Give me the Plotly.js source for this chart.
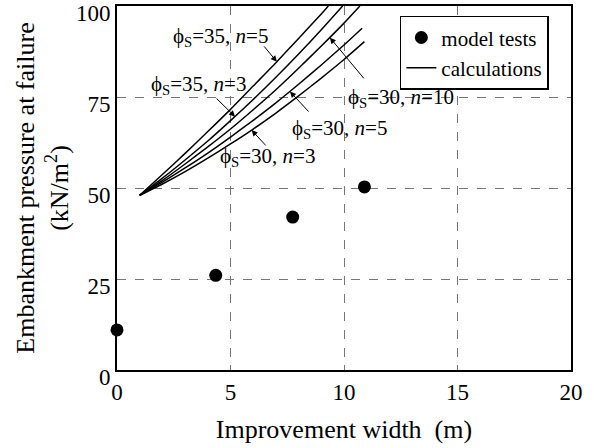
<!DOCTYPE html>
<html>
<head>
<meta charset="utf-8">
<script src="https://cdn.plot.ly/plotly-3.0.1.min.js"></script>
<style>html,body{margin:0;padding:0;background:#fff;}#chart{width:594px;height:448px;}</style>
</head>
<body>
<div id="chart"></div>
<script>
// Model test results
const testWidth = [0, 4.35, 7.74, 10.9];
const testPressure = [11, 26, 42, 50.3];

// Calculated curves (improvement width m, pressure kN/m2)
const calcX_35_5 = [1, 2, 3, 4, 5, 6, 7, 8, 9, 9.31];
const calcY_35_5 = [48, 53.7, 59.5, 65.5, 71.6, 78.0, 84.4, 91.1, 97.8, 100];
const calcX_35_3 = [1, 2, 3, 4, 5, 6, 7, 8, 9, 9.94];
const calcY_35_3 = [48, 52.7, 57.7, 62.9, 68.5, 74.3, 80.4, 86.8, 93.5, 100];
const calcX_30_10 = [1, 2, 3, 4, 5, 6, 7, 8, 9, 10, 10.7];
const calcY_30_10 = [48, 52.1, 56.6, 61.3, 66.2, 71.5, 77.0, 82.9, 89.0, 95.3, 100];
const calcX_30_5 = [1, 2, 3, 4, 5, 6, 7, 8, 9, 10, 10.8];
const calcY_30_5 = [48, 51.6, 55.5, 59.6, 64.0, 68.6, 73.4, 78.5, 83.8, 89.3, 93.9];
const calcX_30_3 = [1, 2, 3, 4, 5, 6, 7, 8, 9, 10, 10.9];
const calcY_30_3 = [48, 51.1, 54.5, 58.2, 62.1, 66.2, 70.6, 75.3, 80.2, 85.3, 90.2];

const curveLabels = ['ϕ<sub>S</sub>=35, <i>n</i>=5', 'ϕ<sub>S</sub>=35, <i>n</i>=3', 'ϕ<sub>S</sub>=30, <i>n</i>=10', 'ϕ<sub>S</sub>=30, <i>n</i>=5', 'ϕ<sub>S</sub>=30, <i>n</i>=3'];
const xTicks = [0, 5, 10, 15, 20];
const yTicks = [0, 25, 50, 75, 100];

const FONT = '"Liberation Serif", "Times New Roman", Times, serif';

const curves = [
  [calcX_35_5, calcY_35_5],
  [calcX_35_3, calcY_35_3],
  [calcX_30_10, calcY_30_10],
  [calcX_30_5, calcY_30_5],
  [calcX_30_3, calcY_30_3]
];

const traces = [{
  x: testWidth, y: testPressure, mode: 'markers', type: 'scatter',
  name: 'model tests', cliponaxis: false,
  marker: {color: '#000', size: 13}
}];
curves.forEach((c, i) => {
  traces.push({
    x: c[0], y: c[1], mode: 'lines', type: 'scatter',
    name: 'calculations', legendgroup: 'calc', showlegend: i === 0,
    line: {color: '#000', width: 1.5, shape: 'spline', smoothing: 0.6}
  });
});

// label text positions & arrow tails/tips (data units)
const labelPos = [[4.54, 91.5], [3.61, 78.3], [12.5, 74.6], [9.8, 66.2], [6.63, 58.4]];
const arrowTail = [[6.43, 89.3], [4.32, 75.0], [10.93, 79.7], [8.5, 70.6], [6.61, 61.3]];
const arrowTip = [[7.04, 84.7], [5.2, 69.6], [9.38, 91.3], [7.62, 76.5], [5.93, 65.9]];

const annotations = [];
curveLabels.forEach((t, i) => {
  annotations.push({
    x: labelPos[i][0], y: labelPos[i][1], xref: 'x', yref: 'y',
    text: t, showarrow: false, font: {family: FONT, size: 21, color: '#000'},
    xanchor: 'center', yanchor: 'middle'
  });
  annotations.push({
    x: arrowTip[i][0], y: arrowTip[i][1], xref: 'x', yref: 'y',
    ax: arrowTail[i][0], ay: arrowTail[i][1], axref: 'x', ayref: 'y',
    text: '', showarrow: true, arrowhead: 2, arrowsize: 1.2, arrowwidth: 1, arrowcolor: '#000'
  });
});

const layout = {
  width: 594, height: 448,
  margin: {l: 117, r: 23, t: 6, b: 78},
  paper_bgcolor: '#fff', plot_bgcolor: '#fff',
  font: {family: FONT, color: '#000', size: 22},
  showlegend: true,
  legend: {
    x: 0.623, y: 0.973, xanchor: 'left', yanchor: 'top',
    bordercolor: '#000', borderwidth: 1.5, bgcolor: '#fff',
    font: {family: FONT, size: 21, color: '#000'},
    tracegroupgap: 0
  },
  xaxis: {
    range: [0, 20], tickvals: xTicks, ticktext: xTicks.map(String),
    showline: true, linecolor: '#000', linewidth: 2, mirror: true,
    showgrid: true, gridcolor: '#777', gridwidth: 1, griddash: 'dash',
    zeroline: false, ticks: 'inside', ticklen: 5, tickcolor: '#777',
    tickfont: {family: FONT, size: 23},
    title: {text: 'Improvement width  (m)', font: {family: FONT, size: 26}, standoff: 16}
  },
  yaxis: {
    range: [0, 100], tickvals: yTicks, ticktext: yTicks.map(String),
    showline: true, linecolor: '#000', linewidth: 2, mirror: true,
    showgrid: true, gridcolor: '#777', gridwidth: 1, griddash: 'dash',
    zeroline: false, ticks: 'inside', ticklen: 5, tickcolor: '#777',
    tickfont: {family: FONT, size: 23}, ticklabelshift: 7,
    title: {text: 'Embankment pressure at failure<br>(kN/m<sup>2</sup>)', font: {family: FONT, size: 26}, standoff: 0}
  },
  annotations: annotations
};

Plotly.newPlot('chart', traces, layout, {displayModeBar: false, staticPlot: true});
</script>
</body>
</html>
